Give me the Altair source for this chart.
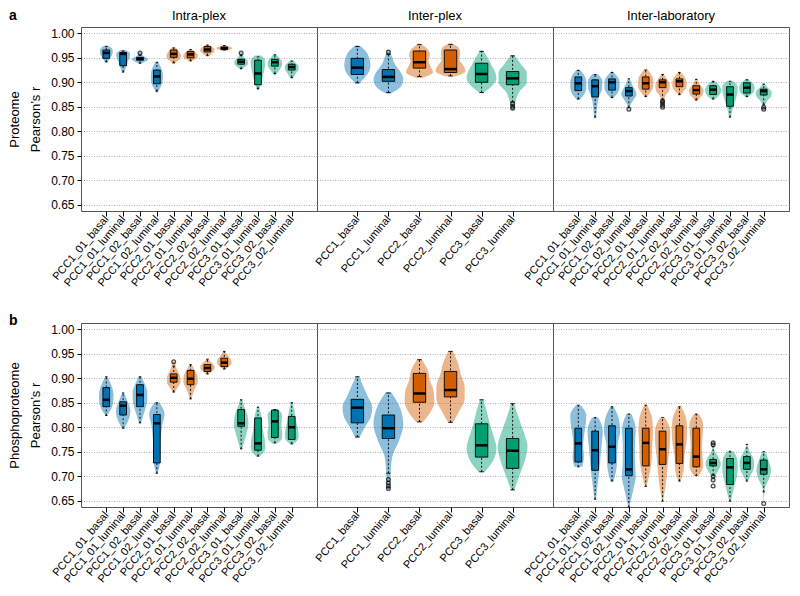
import altair as alt
import pandas as pd

CATS_PLEX = ["PCC1_01_basal", "PCC1_01_luminal", "PCC1_02_basal", "PCC1_02_luminal",
             "PCC2_01_basal", "PCC2_01_luminal", "PCC2_02_basal", "PCC2_02_luminal",
             "PCC3_01_basal", "PCC3_01_luminal", "PCC3_02_basal", "PCC3_02_luminal"]
CATS_SAMPLE = ["PCC1_basal", "PCC1_luminal", "PCC2_basal", "PCC2_luminal", "PCC3_basal", "PCC3_luminal"]
GROUPS = ["PCC1", "PCC2", "PCC3"]
COLORS = ["#0072B2", "#D55E00", "#009E73"]
Y_TICKS = [0.65, 0.70, 0.75, 0.80, 0.85, 0.90, 0.95, 1.00]
Y_DOMAIN = [0.637, 1.013]
COL_TITLES = ["Intra-plex", "Inter-plex", "Inter-laboratory"]
ROW_TITLES = [["Proteome", "Pearson\u2019s r"], ["Phosphoproteome", "Pearson\u2019s r"]]

# ---- a: Proteome, intra-plex ----
A1_VLO = [.940, .920, .938, .879, .937, .942, .952, .964, .926, .884, .914, .907]
A1_VHI = [.975, .966, .962, .943, .972, .968, .977, .976, .962, .955, .958, .946]
A1_VW = [[0.1, 0.35, 0.55, 0.75, 0.8, 0.7, 0.2], [0.1, 0.3, 0.45, 0.6, 0.8, 0.85, 0.3],
         [0.1, 0.6, 1.0, 0.8, 0.4, 0.25, 0.1], [0.1, 0.45, 0.7, 0.75, 0.7, 0.45, 0.1],
         [0.1, 0.4, 0.8, 0.9, 0.75, 0.5, 0.15], [0.1, 0.5, 0.85, 0.9, 0.75, 0.45, 0.1],
         [0.1, 0.4, 0.7, 0.9, 0.85, 0.55, 0.1], [0.1, 0.5, 0.9, 1.0, 0.8, 0.4, 0.1],
         [0.1, 0.5, 0.85, 0.8, 0.45, 0.2, 0.08], [0.1, 0.35, 0.55, 0.7, 0.85, 0.9, 0.4],
         [0.1, 0.4, 0.7, 0.9, 0.85, 0.5, 0.1], [0.1, 0.35, 0.6, 0.85, 0.85, 0.5, 0.1]]
A1_WLO = [.942, .921, .939, .882, .940, .944, .955, .966, .928, .887, .918, .910]
A1_Q1 = [.949, .934, .945, .897, .951, .950, .962, .967, .937, .895, .933, .925]
A1_MED = [.960, .958, .948, .912, .958, .957, .967, .970, .942, .918, .941, .931]
A1_Q3 = [.966, .961, .951, .925, .966, .963, .973, .972, .947, .945, .947, .937]
A1_WHI = [.973, .964, .955, .940, .970, .967, .976, .975, .955, .952, .956, .943]
A1_OUT_CAT = [3, 9]
A1_OUT_VAL = [.960, .960]

# ---- a: Proteome, inter-plex ----
A2_VLO = [.897, .877, .909, .912, .878, .843]
A2_VHI = [.975, .966, .979, .980, .965, .956]
A2_VW = [[0.1, 0.5, 0.8, 0.88, 0.8, 0.6, 0.15], [0.15, 0.85, 1.0, 0.8, 0.45, 0.25, 0.05],
         [0.2, 0.9, 0.75, 0.6, 0.7, 0.55, 0.1], [0.3, 1.0, 0.85, 0.6, 0.65, 0.6, 0.1],
         [0.1, 0.7, 1.0, 0.9, 0.65, 0.4, 0.1], [0.05, 0.2, 0.45, 0.95, 0.95, 0.55, 0.1]]
A2_WLO = [.899, .879, .912, .913, .879, .860]
A2_Q1 = [.916, .902, .929, .920, .900, .895]
A2_MED = [.930, .911, .941, .927, .917, .908]
A2_Q3 = [.949, .926, .964, .966, .939, .922]
A2_WHI = [.973, .957, .977, .977, .963, .954]
A2_OUT_CAT = [2, 6, 6, 6]
A2_OUT_VAL = [.962, .856, .851, .847]

# ---- a: Proteome, inter-laboratory ----
A3_VLO = [.864, .827, .867, .843, .869, .848, .873, .862, .864, .827, .869, .844]
A3_VHI = [.926, .917, .922, .908, .927, .917, .922, .908, .903, .903, .907, .898]
A3_VW = [[0.15, 0.7, 0.95, 1.0, 0.95, 0.7, 0.15], [0.1, 0.2, 0.3, 0.5, 0.85, 0.9, 0.3],
         [0.1, 0.6, 0.9, 0.95, 0.9, 0.6, 0.1], [0.05, 0.2, 0.6, 0.95, 0.7, 0.35, 0.1],
         [0.1, 0.55, 0.9, 0.95, 0.9, 0.6, 0.15], [0.05, 0.15, 0.3, 0.8, 0.9, 0.6, 0.1],
         [0.1, 0.5, 0.85, 0.9, 0.8, 0.5, 0.1], [0.1, 0.5, 0.85, 0.9, 0.6, 0.3, 0.08],
         [0.1, 0.6, 0.9, 1.0, 0.9, 0.6, 0.1], [0.1, 0.25, 0.45, 0.7, 0.9, 0.95, 0.3],
         [0.1, 0.6, 0.9, 0.95, 0.9, 0.6, 0.1], [0.05, 0.15, 0.4, 0.9, 1.0, 0.5, 0.1]]
A3_WLO = [.866, .829, .869, .849, .871, .864, .875, .864, .866, .829, .871, .855]
A3_Q1 = [.883, .870, .884, .872, .886, .889, .891, .876, .875, .851, .878, .874]
A3_MED = [.898, .892, .900, .882, .898, .900, .902, .884, .885, .875, .889, .882]
A3_Q3 = [.911, .905, .907, .889, .911, .905, .907, .893, .893, .891, .899, .886]
A3_WHI = [.924, .916, .920, .907, .925, .916, .920, .906, .902, .902, .905, .896]
A3_OUT_CAT = [4, 6, 6, 6, 6, 12, 12]
A3_OUT_VAL = [.845, .862, .858, .853, .849, .849, .845]

# ---- b: Phosphoproteome, intra-plex ----
B1_VLO = [.824, .797, .808, .706, .871, .857, .908, .918, .755, .740, .767, .765]
B1_VHI = [.904, .871, .904, .851, .936, .929, .940, .956, .857, .842, .837, .851]
B1_VW = [[0.1, 0.6, 0.85, 0.9, 0.8, 0.5, 0.1], [0.1, 0.5, 0.8, 0.9, 0.7, 0.4, 0.1],
         [0.1, 0.4, 0.7, 0.9, 0.9, 0.6, 0.15], [0.1, 0.4, 0.45, 0.5, 0.65, 0.95, 0.3],
         [0.1, 0.5, 0.85, 0.8, 0.5, 0.25, 0.1], [0.1, 0.3, 0.6, 0.9, 0.85, 0.5, 0.1],
         [0.1, 0.5, 0.85, 0.9, 0.7, 0.35, 0.1], [0.1, 0.6, 0.9, 0.85, 0.6, 0.3, 0.1],
         [0.1, 0.4, 0.7, 0.9, 0.8, 0.45, 0.1], [0.2, 0.9, 0.85, 0.65, 0.5, 0.4, 0.1],
         [0.3, 0.9, 0.9, 0.8, 0.85, 0.9, 0.3], [0.2, 0.85, 0.8, 0.6, 0.45, 0.3, 0.1]]
B1_WLO = [.824, .798, .809, .706, .872, .858, .909, .919, .756, .741, .768, .766]
B1_Q1 = [.842, .825, .842, .727, .892, .887, .914, .924, .802, .753, .779, .775]
B1_MED = [.856, .844, .866, .808, .901, .899, .921, .932, .808, .767, .812, .800]
B1_Q3 = [.881, .852, .887, .826, .909, .916, .928, .941, .836, .819, .835, .822]
B1_WHI = [.903, .870, .903, .850, .925, .928, .939, .955, .856, .841, .836, .850]
B1_OUT_CAT = [5]
B1_OUT_VAL = [.934]

# ---- b: Phosphoproteome, inter-plex ----
B2_VLO = [.779, .673, .810, .809, .708, .671]
B2_VHI = [.904, .871, .939, .956, .857, .849]
B2_VW = [[0.15, 0.5, 0.9, 1.0, 0.7, 0.4, 0.1], [0.1, 0.15, 0.25, 0.7, 1.0, 0.8, 0.2],
         [0.2, 0.75, 1.0, 0.95, 0.7, 0.55, 0.15], [0.15, 0.6, 0.95, 0.95, 0.7, 0.5, 0.15],
         [0.2, 0.8, 1.0, 0.8, 0.55, 0.35, 0.1], [0.1, 0.45, 0.8, 1.0, 0.75, 0.4, 0.1]]
B2_WLO = [.780, .706, .811, .810, .709, .672]
B2_Q1 = [.809, .777, .851, .862, .739, .716]
B2_MED = [.840, .798, .869, .876, .763, .752]
B2_Q3 = [.857, .825, .910, .914, .807, .777]
B2_WHI = [.903, .870, .938, .955, .856, .848]
B2_OUT_CAT = [2, 2, 2, 2]
B2_OUT_VAL = [.693, .686, .680, .675]

# ---- b: Phosphoproteome, inter-laboratory ----
B3_VLO = [.719, .653, .690, .637, .679, .649, .690, .701, .680, .649, .690, .643]
B3_VHI = [.845, .820, .842, .827, .845, .820, .842, .827, .770, .751, .765, .750]
B3_VW = [[0.5, 0.7, 0.6, 0.7, 0.9, 1.0, 0.3], [0.1, 0.3, 0.5, 0.65, 0.8, 0.95, 0.4],
         [0.2, 0.55, 0.65, 0.7, 1.0, 0.85, 0.2], [0.05, 0.5, 0.85, 0.75, 0.75, 0.85, 0.3],
         [0.1, 0.5, 0.75, 0.8, 0.9, 0.8, 0.2], [0.05, 0.35, 0.55, 0.7, 0.9, 0.95, 0.3],
         [0.15, 0.55, 0.6, 0.85, 0.95, 0.85, 0.2], [0.3, 0.85, 0.75, 0.7, 0.8, 0.85, 0.3],
         [0.02, 0.1, 0.6, 0.95, 0.6, 0.1, 0.02], [0.1, 0.35, 0.6, 0.85, 0.95, 0.9, 0.4],
         [0.1, 0.5, 0.85, 0.9, 0.7, 0.3, 0.05], [0.02, 0.05, 0.2, 0.7, 0.9, 0.6, 0.2]]
B3_WLO = [.719, .653, .690, .637, .679, .649, .690, .701, .702, .649, .690, .668]
B3_Q1 = [.729, .712, .727, .701, .721, .724, .726, .719, .721, .683, .714, .704]
B3_MED = [.767, .753, .760, .714, .768, .755, .765, .740, .727, .718, .727, .714]
B3_Q3 = [.798, .792, .803, .798, .798, .792, .803, .798, .734, .736, .740, .733]
B3_WHI = [.845, .820, .842, .827, .845, .820, .842, .827, .760, .751, .765, .750]
B3_OUT_CAT = [9, 9, 9, 9, 9, 12]
B3_OUT_VAL = [.768, .764, .700, .692, .680, .644]

VIOLIN_HALF = 0.48
BOX_HALF = 0.2
CAP_HALF = 0.07
PANEL_W = 236
PANEL_H = 184
FONT = "Liberation Sans"


def make_panel(cats, vlo, vhi, vw, wlo, q1, med, q3, whi, out_cat, out_val,
               xdom, title=None, ytitle=None, tag=None, tag_y=0):
    n = len(cats)
    grp = [c[:4] for c in cats]
    rows = []
    for i in range(n):
        m = len(vw[i])
        for k, w in enumerate(vw[i]):
            rows.append({"cat": cats[i], "grp": grp[i], "pos": i + 1,
                         "v": vlo[i] + (vhi[i] - vlo[i]) * k / (m - 1),
                         "hw": w * VIOLIN_HALF})
    vdf = pd.DataFrame(rows)
    bdf = pd.DataFrame({"cat": cats, "grp": grp, "pos": list(range(1, n + 1)),
                        "wlo": wlo, "q1": q1, "med": med, "q3": q3, "whi": whi})
    odf = pd.DataFrame({"pos": out_cat, "v": out_val})

    xs = alt.Scale(domain=xdom, nice=False, zero=False)
    ys = alt.Scale(domain=Y_DOMAIN, nice=False, zero=False)
    label_expr = "[" + ",".join("'%s'" % c for c in cats) + "][datum.value - 1]"
    xaxis = alt.Axis(values=list(range(1, n + 1)), labelExpr=label_expr, labelAngle=-50,
                     labelOverlap=False, labelBound=False,
                     grid=False, domain=False, ticks=True, tickSize=5, tickColor="black",
                     labelFontSize=11, labelPadding=1, labelColor="black", title=None)
    if ytitle:
        yaxis = alt.Axis(values=Y_TICKS, format=".2f", title=ytitle, grid=True,
                         domain=False, ticks=True, tickSize=4, tickColor="black",
                         labelFontSize=12, labelPadding=3, labelColor="black",
                         labelOverlap=False,
                         titleFontSize=13, titleFontWeight="normal", titlePadding=8,
                         titleLineHeight=21, titleColor="black")
    else:
        yaxis = alt.Axis(values=Y_TICKS, labels=False, ticks=False, domain=False,
                         grid=True, title=None)
    color = alt.Color("grp:N", scale=alt.Scale(domain=GROUPS, range=COLORS), legend=None)

    def X(f):
        return alt.X(f + ":Q", scale=xs, axis=xaxis)

    def Y(f):
        return alt.Y(f + ":Q", scale=ys, axis=yaxis)

    violin = alt.Chart(vdf).transform_calculate(
        xl="datum.pos - datum.hw", xr="datum.pos + datum.hw"
    ).mark_area(orient="horizontal", interpolate="monotone", fillOpacity=0.45).encode(
        y=Y("v"),
        x=alt.X("xl:Q", scale=xs, axis=xaxis, stack=False),
        x2="xr:Q", color=color, detail="cat:N")

    base = alt.Chart(bdf).transform_calculate(
        bl="datum.pos - %f" % BOX_HALF, br="datum.pos + %f" % BOX_HALF,
        cl="datum.pos - %f" % CAP_HALF, cr="datum.pos + %f" % CAP_HALF)
    whisk = base.mark_rule(color="black", strokeWidth=0.9, strokeDash=[2, 2]).encode(
        x=X("pos"), y=Y("wlo"), y2="whi:Q")
    cap_lo = base.mark_rule(color="black", strokeWidth=0.9).encode(x=X("cl"), x2="cr:Q", y=Y("wlo"))
    cap_hi = base.mark_rule(color="black", strokeWidth=0.9).encode(x=X("cl"), x2="cr:Q", y=Y("whi"))
    box = base.mark_rect(stroke="black", strokeWidth=0.9).encode(
        x=X("bl"), x2="br:Q", y=Y("q1"), y2="q3:Q", color=color)
    median = base.mark_rule(color="black", strokeWidth=2.5).encode(x=X("bl"), x2="br:Q", y=Y("med"))
    outl = alt.Chart(odf).mark_point(shape="circle", filled=False, color="black",
                                     size=14, strokeWidth=1.3).encode(x=X("pos"), y=Y("v"))
    layers = [violin, whisk, cap_lo, cap_hi, box, median, outl]
    labels = []
    if title:
        labels.append({"t": title, "x": PANEL_W / 2, "y": -7, "a": "center", "w": "normal", "s": 13})
    if tag:
        labels.append({"t": tag, "x": -72, "y": tag_y, "a": "left", "w": "bold", "s": 14})
    for lab in labels:
        layers.append(alt.Chart(pd.DataFrame({"t": [lab["t"]]})).mark_text(
            align=lab["a"], baseline="alphabetic", fontSize=lab["s"], fontWeight=lab["w"],
            color="black").encode(x=alt.value(lab["x"]), y=alt.value(lab["y"]), text="t:N"))
    return alt.layer(*layers).properties(width=PANEL_W, height=PANEL_H)


XD12 = [-0.5, 13.5]
XD6 = [-0.3, 7.3]

a1 = make_panel(CATS_PLEX, A1_VLO, A1_VHI, A1_VW, A1_WLO, A1_Q1, A1_MED, A1_Q3, A1_WHI,
                A1_OUT_CAT, A1_OUT_VAL, XD12, COL_TITLES[0], ROW_TITLES[0], "a", -7)
a2 = make_panel(CATS_SAMPLE, A2_VLO, A2_VHI, A2_VW, A2_WLO, A2_Q1, A2_MED, A2_Q3, A2_WHI,
                A2_OUT_CAT, A2_OUT_VAL, XD6, COL_TITLES[1])
a3 = make_panel(CATS_PLEX, A3_VLO, A3_VHI, A3_VW, A3_WLO, A3_Q1, A3_MED, A3_Q3, A3_WHI,
                A3_OUT_CAT, A3_OUT_VAL, XD12, COL_TITLES[2])
b1 = make_panel(CATS_PLEX, B1_VLO, B1_VHI, B1_VW, B1_WLO, B1_Q1, B1_MED, B1_Q3, B1_WHI,
                B1_OUT_CAT, B1_OUT_VAL, XD12, None, ROW_TITLES[1], "b", 2)
b2 = make_panel(CATS_SAMPLE, B2_VLO, B2_VHI, B2_VW, B2_WLO, B2_Q1, B2_MED, B2_Q3, B2_WHI,
                B2_OUT_CAT, B2_OUT_VAL, XD6)
b3 = make_panel(CATS_PLEX, B3_VLO, B3_VHI, B3_VW, B3_WLO, B3_Q1, B3_MED, B3_Q3, B3_WHI,
                B3_OUT_CAT, B3_OUT_VAL, XD12)

row_a = alt.hconcat(a1, a2, a3, spacing=0, bounds="flush")
row_b = alt.hconcat(b1, b2, b3, spacing=0, bounds="flush")

chart = alt.vconcat(row_a, row_b, spacing=24).properties(
    padding=0
).configure(font=FONT).configure_view(
    stroke="#555555", strokeWidth=1
).configure_axis(
    gridColor="#a0a0a0", gridDash=[1, 1.5], gridWidth=0.8
)

chart.save("out.html", embed_options={"renderer": "svg", "actions": False})
